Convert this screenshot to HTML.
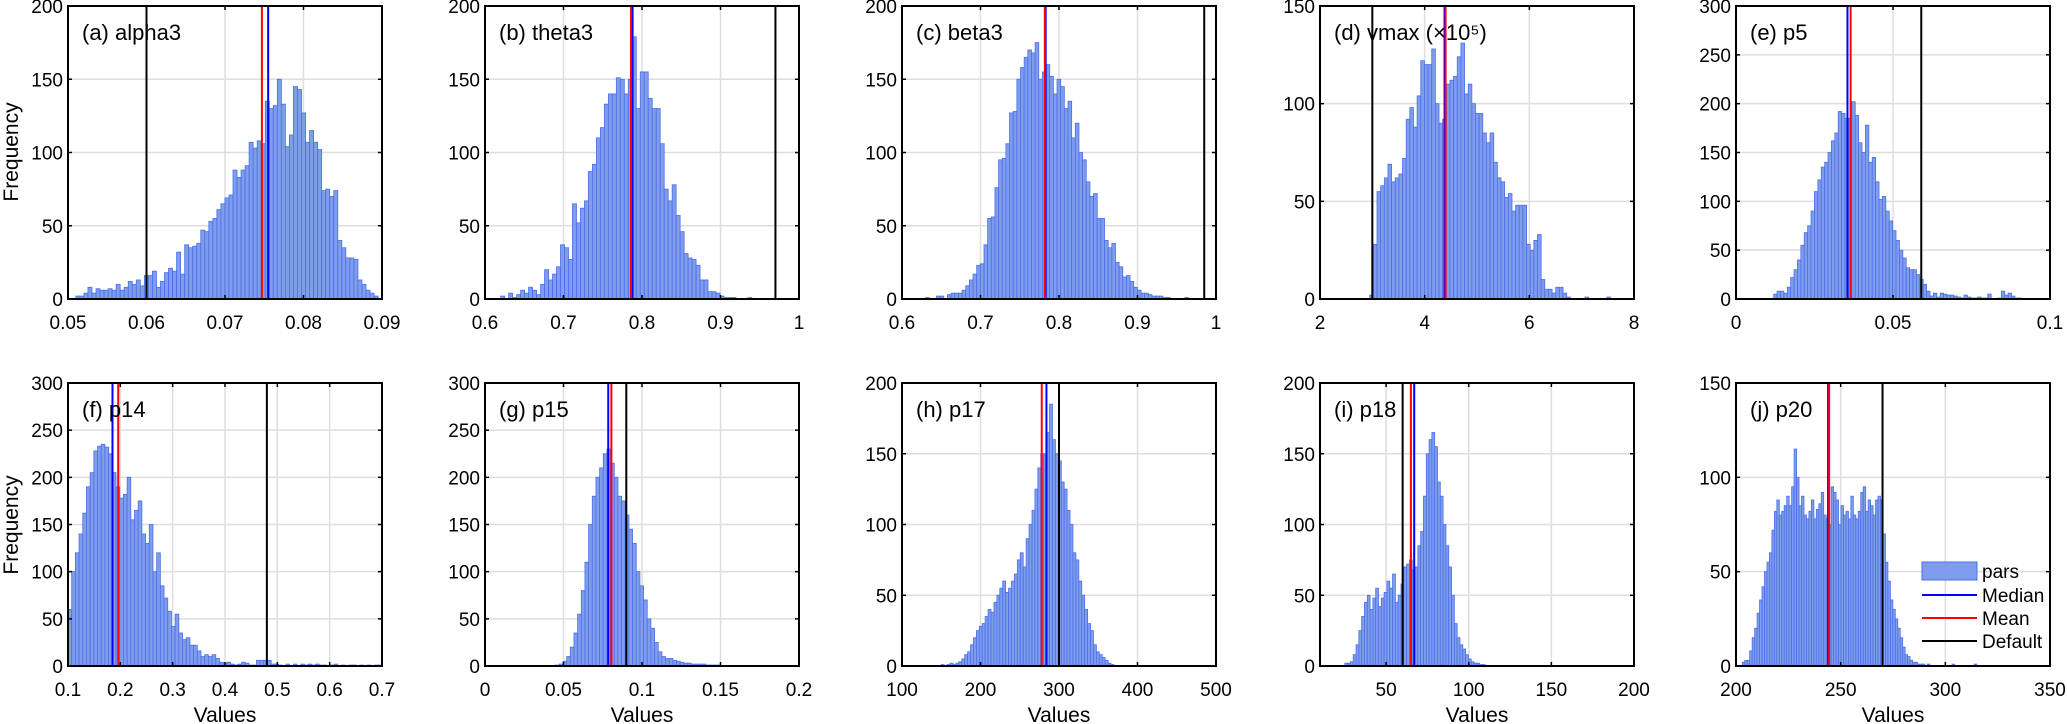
<!DOCTYPE html>
<html><head><meta charset="utf-8"><title>Parameter histograms</title>
<style>
html,body{margin:0;padding:0;background:#fff;}
svg{display:block;font-family:"Liberation Sans",Arial,sans-serif;}
</style></head>
<body>
<svg id="chart" width="2067" height="724" viewBox="0 0 2067 724" xmlns="http://www.w3.org/2000/svg"></svg>
<script>
// ---- data (bin counts) ----
const titles = ["(a) alpha3","(b) theta3","(c) beta3","(d) vmax (×10⁵)","(e) p5","(f) p14","(g) p15","(h) p17","(i) p18","(j) p20"];
const xRanges = [[0.05,0.09],[0.6,1.0],[0.6,1.0],[2,8],[0,0.1],[0.1,0.7],[0,0.2],[100,500],[10,200],[200,350]];
const yMaxes = [200,200,200,150,300,300,300,200,200,150];
const xTicksA=[0.05,0.06,0.07,0.08,0.09], xTickLabA=["0.05","0.06","0.07","0.08","0.09"];
const xTicksB=[0.6,0.7,0.8,0.9,1.0], xTickLabB=["0.6","0.7","0.8","0.9","1"];
const xTicksD=[2,4,6,8], xTickLabD=["2","4","6","8"];
const xTicksE=[0,0.05,0.1], xTickLabE=["0","0.05","0.1"];
const xTicksF=[0.1,0.2,0.3,0.4,0.5,0.6,0.7], xTickLabF=["0.1","0.2","0.3","0.4","0.5","0.6","0.7"];
const xTicksG=[0,0.05,0.1,0.15,0.2], xTickLabG=["0","0.05","0.1","0.15","0.2"];
const xTicksH=[100,200,300,400,500], xTickLabH=["100","200","300","400","500"];
const xTicksI=[50,100,150,200], xTickLabI=["50","100","150","200"];
const xTicksJ=[200,250,300,350], xTickLabJ=["200","250","300","350"];
const yTicks200=[0,50,100,150,200], yTicks150=[0,50,100,150], yTicks300=[0,50,100,150,200,250,300];
const dataStart=[0.051,0.62,0.63,2.95,0.012,0.1,0.045,150,25,203];
const dataEnd=[0.0895,0.94,0.965,7.55,0.091,0.7,0.15,370,110,315];
const countsA=[2,2,4,8,4,7,6,6,7,6,10,6,8,12,10,13,9,16,16,19,8,12,18,21,19,32,17,37,35,36,38,47,46,53,55,61,65,69,71,88,83,88,91,107,103,108,106,135,130,132,150,133,104,112,145,143,127,107,115,107,102,74,75,70,74,40,35,28,28,27,13,10,6,4,2];
const countsB=[2,0,4,1,3,6,4,8,6,3,10,20,13,17,22,37,35,27,65,52,62,67,87,92,110,117,133,140,140,151,150,140,150,179,130,155,155,137,130,130,106,75,67,78,57,46,31,28,27,23,13,13,5,5,4,2,1,1,1,0,0,0,1];
const countsC=[1,0,0,2,2,0,3,4,4,4,6,9,13,17,23,24,37,55,56,76,95,96,106,127,128,150,158,165,170,168,175,150,155,160,152,140,150,145,130,135,110,120,100,95,80,70,72,55,55,40,35,38,25,22,15,16,12,8,6,4,4,3,2,2,2,1,1,0,0,0,0,1];
const countsD=[2,28,55,58,62,69,60,62,64,72,92,98,88,104,122,120,120,128,100,90,92,110,112,114,124,131,105,110,100,95,95,85,80,85,70,62,60,52,54,45,48,48,48,28,25,30,33,10,5,5,3,6,6,3,1,0,0,0,0,1,0,0,0,0,0,1];
const countsE=[5,8,8,6,12,22,30,40,55,68,75,90,110,122,135,140,150,162,170,192,190,185,185,202,188,160,150,178,140,145,120,102,105,90,80,70,60,50,42,32,30,30,25,20,15,8,3,6,2,6,5,4,4,3,2,1,4,2,1,1,2,1,1,5,0,0,1,8,4,6,3,1,1];
const countsF=[60,100,120,140,162,190,205,228,233,235,232,225,205,190,178,182,200,155,165,175,140,130,150,100,120,85,72,58,42,55,35,28,30,22,22,16,10,12,10,12,8,4,3,4,2,1,2,4,3,1,1,6,6,6,6,2,2,1,0,2,0,2,0,2,1,2,1,2,1,1,0,1,2,0,1,0,1,1,0,1,0,1,0,1,1];
const countsG=[1,2,5,10,20,35,55,80,110,150,180,200,210,225,230,215,200,180,175,160,145,130,100,85,70,50,40,25,15,10,8,8,6,5,4,3,3,2,2,2,2,1,1,1,1];
const countsH=[1,0,1,2,1,2,3,5,8,10,15,20,25,28,30,35,40,38,45,50,55,60,52,55,60,65,75,80,70,90,100,110,125,140,150,150,165,185,160,150,145,130,125,110,100,80,75,60,50,40,30,25,15,10,8,6,4,2,1];
const countsI=[2,2,3,8,15,25,35,45,50,40,48,55,42,48,52,60,55,65,45,50,58,70,72,75,68,70,85,95,120,150,160,165,155,130,120,100,85,70,50,30,20,15,12,8,5,3,2,2,1,1];
const countsJ=[2,3,3,8,15,20,28,35,42,50,55,60,72,82,88,80,82,85,90,85,95,115,100,85,90,80,78,82,88,78,83,86,92,80,78,75,95,92,88,75,85,80,82,78,90,80,78,82,92,95,82,88,85,80,88,90,88,70,55,45,35,30,25,20,15,10,6,5,3,2,2,1,1,1,0,1,0,0,0,0,0,0,0,0,0,1,0,0,0,0,0,0,0,0,1];
const medians=[0.0755,0.788,0.783,4.38,0.0355,0.185,0.0785,284,67,244];
const means=[0.0747,0.786,0.782,4.40,0.0365,0.196,0.0805,278,65,244.5];
const defaults=[0.06,0.97,0.985,3.0,0.059,0.48,0.09,300,60,270];

const allCounts=[countsA,countsB,countsC,countsD,countsE,countsF,countsG,countsH,countsI,countsJ];
const allXTicks=[xTicksA,xTicksB,xTicksB,xTicksD,xTicksE,xTicksF,xTicksG,xTicksH,xTicksI,xTicksJ];
const allXLabs=[xTickLabA,xTickLabB,xTickLabB,xTickLabD,xTickLabE,xTickLabF,xTickLabG,xTickLabH,xTickLabI,xTickLabJ];
const allYTicks=[yTicks200,yTicks200,yTicks200,yTicks150,yTicks300,yTicks300,yTicks300,yTicks200,yTicks200,yTicks150];

// ---- layout ----
const NS="http://www.w3.org/2000/svg";
const svg=document.getElementById('chart');
const colLeft=[68,485,902,1320,1736], W=314;
const rowTop=[6,383], rowBot=[299,666];
function mk(tag,attrs,parent){const e=document.createElementNS(NS,tag);for(const k in attrs)e.setAttribute(k,attrs[k]);(parent||svg).appendChild(e);return e;}

for(let p=0;p<10;p++){
  const r=Math.floor(p/5), c=p%5;
  const L=colLeft[c], R=L+W, T=rowTop[r], B=rowBot[r];
  const [x0,x1]=xRanges[p], ym=yMaxes[p];
  const sx=v=>L+(v-x0)/(x1-x0)*W;
  const sy=v=>B-v/ym*(B-T);
  const g=mk('g',{});
  
  
  // grid
  allXTicks[p].forEach(t=>{ if(t>x0&&t<x1){const l=mk('line',{x1:sx(t),x2:sx(t),y1:T,y2:B,stroke:'#dedede','stroke-width':1.5},g);
    }});
  allYTicks[p].forEach(t=>{ if(t>0&&t<ym){const l=mk('line',{x1:L,x2:R,y1:sy(t),y2:sy(t),stroke:'#dedede','stroke-width':1.5},g);
    }});
  // bars
  const cnt=allCounts[p], bw=(dataEnd[p]-dataStart[p])/cnt.length;
  cnt.forEach((v,i)=>{ if(v<=0)return;
    const xa=sx(dataStart[p]+i*bw), xb=sx(dataStart[p]+(i+1)*bw);
    const b=mk('rect',{x:xa,y:sy(v),width:Math.max(0.5,xb-xa),height:B-sy(v),fill:'#7f9ced',stroke:'#4a70e6','stroke-width':0.8},g);
    
    
  });
  // vertical stat lines
  const dl=mk('line',{x1:sx(defaults[p]),x2:sx(defaults[p]),y1:T,y2:B,stroke:'#000','stroke-width':2},g);
  
  const ml=mk('line',{x1:sx(medians[p]),x2:sx(medians[p]),y1:T,y2:B,stroke:'#0000ff','stroke-width':2},g);
  
  const mn=mk('line',{x1:sx(means[p]),x2:sx(means[p]),y1:T,y2:B,stroke:'#ff0000','stroke-width':2},g);
  
  // axes box
  const bx=mk('rect',{x:L,y:T,width:W,height:B-T,fill:'none',stroke:'#000','stroke-width':2},g);
  
  // ticks and labels
  allXTicks[p].forEach((t,i)=>{
    mk('line',{x1:sx(t),x2:sx(t),y1:B,y2:B-4,stroke:'#000','stroke-width':1.5},g);
    mk('line',{x1:sx(t),x2:sx(t),y1:T,y2:T+4,stroke:'#000','stroke-width':1.5},g);
    const tx=mk('text',{x:sx(t),y:B+30,'font-size':19,'text-anchor':'middle',fill:'#000'},g);
    tx.textContent=allXLabs[p][i];
    
  });
  allYTicks[p].forEach(t=>{
    mk('line',{x1:L,x2:L+4,y1:sy(t),y2:sy(t),stroke:'#000','stroke-width':1.5},g);
    mk('line',{x1:R,x2:R-4,y1:sy(t),y2:sy(t),stroke:'#000','stroke-width':1.5},g);
    const ty=mk('text',{x:L-5,y:sy(t)+7,'font-size':19,'text-anchor':'end',fill:'#000'},g);
    ty.textContent=String(t);
    
  });
  const tt=mk('text',{x:L+14,y:T+34,'font-size':22,fill:'#000'},g);
  tt.textContent=titles[p];
  
  if(r===1){
    const xl=mk('text',{x:L+W/2,y:722,'font-size':21,'text-anchor':'middle',fill:'#000'},g);
    xl.textContent='Values';
    
  }
}
// y axis titles
[152,525].forEach(cy=>{
  const t=mk('text',{x:0,y:0,'font-size':21,'text-anchor':'middle',transform:`translate(18,${cy}) rotate(-90)`,fill:'#000'});
  t.textContent='Frequency';
  
  
});
// legend
const lg=mk('g',{});


mk('rect',{x:1922,y:562,width:55,height:18,fill:'#7f9ced',stroke:'#4a70e6','stroke-width':1},lg);
const legItems=[['pars',null,571],['Median','#0000ff',595],['Mean','#ff0000',618],['Default','#000',641]];
legItems.forEach(it=>{
  if(it[1]){mk('line',{x1:1922,x2:1977,y1:it[2],y2:it[2],stroke:it[1],'stroke-width':2},lg);}
  const t=mk('text',{x:1982,y:it[2]+7,'font-size':19,fill:'#000'},lg);
  t.textContent=it[0];
  
  
});
</script>
</body></html>
